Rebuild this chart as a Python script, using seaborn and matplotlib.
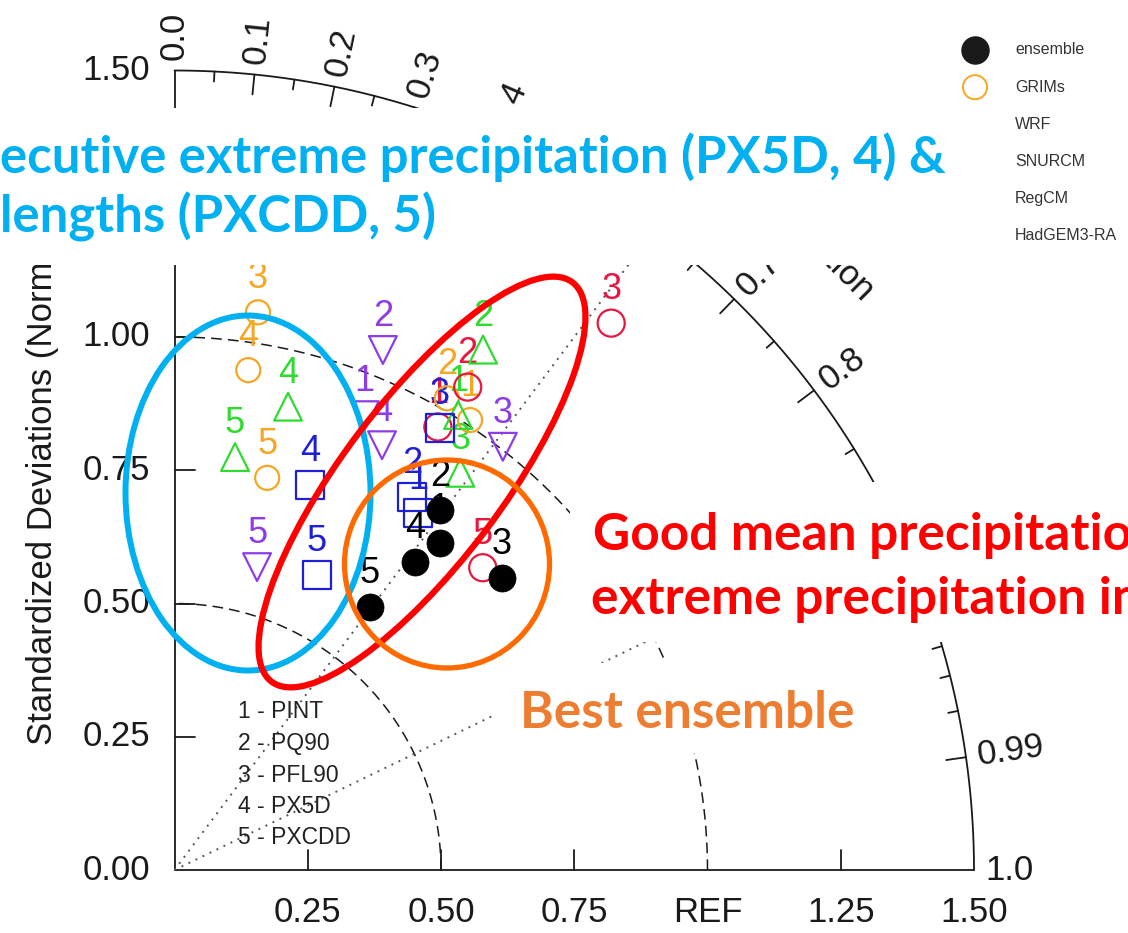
import numpy as np
import pandas as pd
import matplotlib
matplotlib.use("Agg")
import matplotlib.pyplot as plt
import seaborn as sns
from matplotlib.patches import Ellipse, Rectangle

nan = np.nan

# ---------------- data ----------------
index_ids = [1, 2, 3, 4, 5]
index_names = ["PINT", "PQ90", "PFL90", "PX5D", "PXCDD"]
models = ["ensemble", "GRIMs", "WRF", "SNURCM", "RegCM", "HadGEM3-RA"]

# normalized standard deviation and correlation for indices 1..5 (nan = not visible)
ens_std = [0.790, 0.839, 0.823, 0.733, 0.615]
ens_cor = [0.630, 0.594, 0.746, 0.616, 0.596]
grims_std = [1.010, 1.022, 1.058, 0.948, 0.756]
grims_cor = [0.549, 0.500, 0.148, 0.146, 0.230]
wrf_std = [0.967, 1.060, 1.313, nan, 0.810]
wrf_cor = [0.511, 0.519, 0.624, nan, 0.714]
snu_std = [1.006, 1.135, 0.918, 0.895, 0.783]
snu_cor = [0.529, 0.510, 0.584, 0.238, 0.145]
reg_std = [0.811, 0.830, 0.967, 0.766, 0.614]
reg_cor = [0.563, 0.537, 0.515, 0.332, 0.435]
had_std = [0.925, 1.051, 1.005, 0.887, 0.589]
had_cor = [0.386, 0.372, 0.613, 0.439, 0.263]

x_tick_vals = [0.25, 0.50, 0.75, 1.00, 1.25, 1.50]
x_tick_labels = ["0.25", "0.50", "0.75", "REF", "1.25", "1.50"]
y_tick_vals = [0.00, 0.25, 0.50, 0.75, 1.00, 1.25, 1.50]
y_tick_labels = ["0.00", "0.25", "0.50", "0.75", "1.00", "1.25", "1.50"]
corr_major = [0.0, 0.1, 0.2, 0.3, 0.4, 0.5, 0.6, 0.7, 0.8, 0.9, 0.95, 0.99, 1.0]
corr_major_labels = ["0.0", "0.1", "0.2", "0.3", "0.4", "0.5", "0.6", "0.7",
                     "0.8", "0.9", "0.95", "0.99", "1.0"]
corr_minor = [0.05, 0.15, 0.25, 0.35, 0.45, 0.55, 0.65, 0.75, 0.85,
              0.91, 0.92, 0.93, 0.94, 0.96, 0.97, 0.98]
ref_arcs = [0.5, 1.0]
corr_rays = [0.6, 0.9]

# ---------------- style ----------------
sns.set_theme(style="white")
plt.rcParams["font.family"] = ["Liberation Sans", "DejaVu Sans"]

colors = {"ensemble": "#000000", "GRIMs": "#F5A623", "WRF": "#E8173F",
          "SNURCM": "#2EDB2E", "RegCM": "#1F1FD6", "HadGEM3-RA": "#8E3CE6"}
markers = {"ensemble": "o", "GRIMs": "o", "WRF": "o",
           "SNURCM": "^", "RegCM": "s", "HadGEM3-RA": "v"}
sizes = {"ensemble": 380, "GRIMs": 300, "WRF": 380,
         "SNURCM": 400, "RegCM": 400, "HadGEM3-RA": 400}

W, H = 1128, 933
fig = plt.figure(figsize=(W / 100, H / 100), dpi=100)
fig.patch.set_facecolor("white")

PX = 533.0           # pixels per unit
OX, OY = 174.5, 870  # origin in pixels


def p2d(px, py):
    return (px - OX) / PX, (OY - py) / PX


ax = fig.add_axes([0, 0, 1, 1])
ax.set_xlim(-OX / PX, (W - OX) / PX)
ax.set_ylim(-(H - OY) / PX, OY / PX)
ax.axis("off")

LW = 1.3
# axes
ax.plot([0, 1.5], [0, 0], color="k", lw=LW, zorder=2)
ax.plot([0, 0], [0, 1.5], color="k", lw=LW, zorder=2)
th = np.linspace(0, np.pi / 2, 400)
ax.plot(1.5 * np.cos(th), 1.5 * np.sin(th), color="k", lw=LW, zorder=2)
for r in ref_arcs:
    ax.plot(r * np.cos(th), r * np.sin(th), color="k", lw=1.1, dashes=(7, 4), zorder=2)
for c in corr_rays:
    a = np.arccos(c)
    ax.plot([0, 1.5 * np.cos(a)], [0, 1.5 * np.sin(a)], color="#555555", lw=1.4,
            linestyle=(0, (1, 3)), zorder=2)

TL = 20 / PX
TS = 10 / PX
for t in [0.25, 0.5, 0.75, 1.25]:
    ax.plot([t, t], [0, TL], color="k", lw=LW, zorder=2)
for t in [0.25, 0.5, 0.75, 1.0, 1.25]:
    ax.plot([0, TL], [t, t], color="k", lw=LW, zorder=2)
for c in corr_major[1:-1]:
    a = np.arccos(c)
    ax.plot([1.5 * np.cos(a), (1.5 - TL) * np.cos(a)], [1.5 * np.sin(a), (1.5 - TL) * np.sin(a)],
            color="k", lw=LW, zorder=2)
for c in corr_minor:
    a = np.arccos(c)
    ax.plot([1.5 * np.cos(a), (1.5 - TS) * np.cos(a)], [1.5 * np.sin(a), (1.5 - TS) * np.sin(a)],
            color="k", lw=LW, zorder=2)

FS = 25
for c, lab in zip(corr_major, corr_major_labels):
    a = np.arccos(c)
    r = 1.5 + 11 / PX
    ax.text(r * np.cos(a), r * np.sin(a), lab, rotation=np.degrees(a), rotation_mode="anchor",
            ha="left", va="center", fontsize=FS, color="k")
ax.text(1.68 * np.cos(np.pi / 4), 1.68 * np.sin(np.pi / 4), "Correlation", rotation=-45,
        rotation_mode="anchor", ha="center", va="center", fontsize=FS, color="k")

yx = p2d(0, 912)[1]
for t, lab in zip(x_tick_vals, x_tick_labels):
    ax.text(t, yx, lab, ha="center", va="center", fontsize=FS, color="k")
xy = p2d(150, 0)[0]
for t, lab in zip(y_tick_vals, y_tick_labels):
    ax.text(xy, t, lab, ha="right", va="center", fontsize=FS, color="k")

tx, ty = p2d(42, 745)
ax.text(tx, ty, "Standardized Deviations (Normalized)", rotation=90, rotation_mode="anchor",
        ha="left", va="center", fontsize=FS, color="k")

# index key
for i, (k, n) in enumerate(zip(index_ids, index_names)):
    kx, ky = p2d(238, 712 + 31.5 * i)
    ax.text(kx, ky, f"{k} - {n}", ha="left", va="center", fontsize=16.5, color="#222222")

# ---------------- points ----------------
series = [("GRIMs", grims_std, grims_cor), ("WRF", wrf_std, wrf_cor),
          ("SNURCM", snu_std, snu_cor), ("RegCM", reg_std, reg_cor),
          ("HadGEM3-RA", had_std, had_cor), ("ensemble", ens_std, ens_cor)]

for name, sd, cc in series:
    sd = np.asarray(sd, float)
    cc = np.asarray(cc, float)
    df = pd.DataFrame({"x": sd * cc, "y": sd * np.sqrt(1 - cc ** 2), "idx": index_ids}).dropna()
    col = colors[name]
    zl, zm = (5, 6) if name == "ensemble" else (3.5, 4)
    for _, row in df.iterrows():
        ax.annotate(str(int(row["idx"])), (row["x"], row["y"]), xytext=(0, 24),
                    textcoords="offset points", ha="center", va="center",
                    fontsize=26, color=col, zorder=zl)
    if name == "ensemble":
        sns.scatterplot(data=df, x="x", y="y", marker="o", s=sizes[name], color=col,
                        edgecolor=col, linewidth=0.5, ax=ax, zorder=zm, legend=False)
    else:
        sns.scatterplot(data=df, x="x", y="y", marker=markers[name], s=sizes[name],
                        facecolors="none", edgecolor=col, linewidth=1.6, ax=ax,
                        zorder=zm, legend=False)
ax.set_xlim(-OX / PX, (W - OX) / PX)
ax.set_ylim(-(H - OY) / PX, OY / PX)
ax.axis("off")

# ---------------- overlay (legend, slide annotations) ----------------
ov = fig.add_axes([0, 0, 1, 1], zorder=5)
ov.set_xlim(0, W)
ov.set_ylim(H, 0)
ov.axis("off")
ov.patch.set_alpha(0)

for i, m in enumerate(models):
    ly = 50 + 37.2 * i
    if m == "ensemble":
        ov.scatter([975], [ly], marker="o", s=380, color="k", zorder=0.5)
    else:
        ov.scatter([975], [ly], marker=markers[m], s=300, facecolors="none",
                   edgecolors=colors[m], linewidths=1.4, zorder=0.5)
    ov.text(1015, ly, m, fontsize=11.5, color="#333333", va="center", ha="left", zorder=0.5)

for (x0, y0, w, h) in [(0, 108, 1000, 157), (570, 482, 558, 160), (493, 663, 377, 90)]:
    ov.add_patch(Rectangle((x0, y0), w, h, fc="white", ec="none", zorder=1))

SF = ["Lato", "DejaVu Sans"]
ov.text(0, 173, "ecutive extreme precipitation (PX5D, 4) &", family=SF, fontweight="bold",
        fontsize=36.6, color="#00B0F0", ha="left", va="baseline", zorder=3)
ov.text(0, 233, "lengths (PXCDD, 5)", family=SF, fontweight="bold",
        fontsize=36.6, color="#00B0F0", ha="left", va="baseline", zorder=3)
ov.text(593, 550, "Good mean precipitation", family=SF, fontweight="bold",
        fontsize=37, color="#FF0000", ha="left", va="baseline", zorder=3)
ov.text(591, 614, "extreme precipitation in", family=SF, fontweight="bold",
        fontsize=37, color="#FF0000", ha="left", va="baseline", zorder=3)
ov.text(520, 728, "Best ensemble", family=SF, fontweight="bold",
        fontsize=37, color="#ED7D31", ha="left", va="baseline", zorder=3)

ov.add_patch(Ellipse((248, 493), 245, 355, angle=0, fill=False, ec="#00B0F0", lw=4.3, zorder=2))
ov.add_patch(Ellipse((422, 482), 500, 160, angle=-53, fill=False, ec="#FF0000", lw=4.5, zorder=2))
ov.add_patch(Ellipse((447, 564), 205, 208, angle=0, fill=False, ec="#FF6A00", lw=3.8, zorder=2))

fig.savefig("out.png", dpi=100, facecolor="white")
